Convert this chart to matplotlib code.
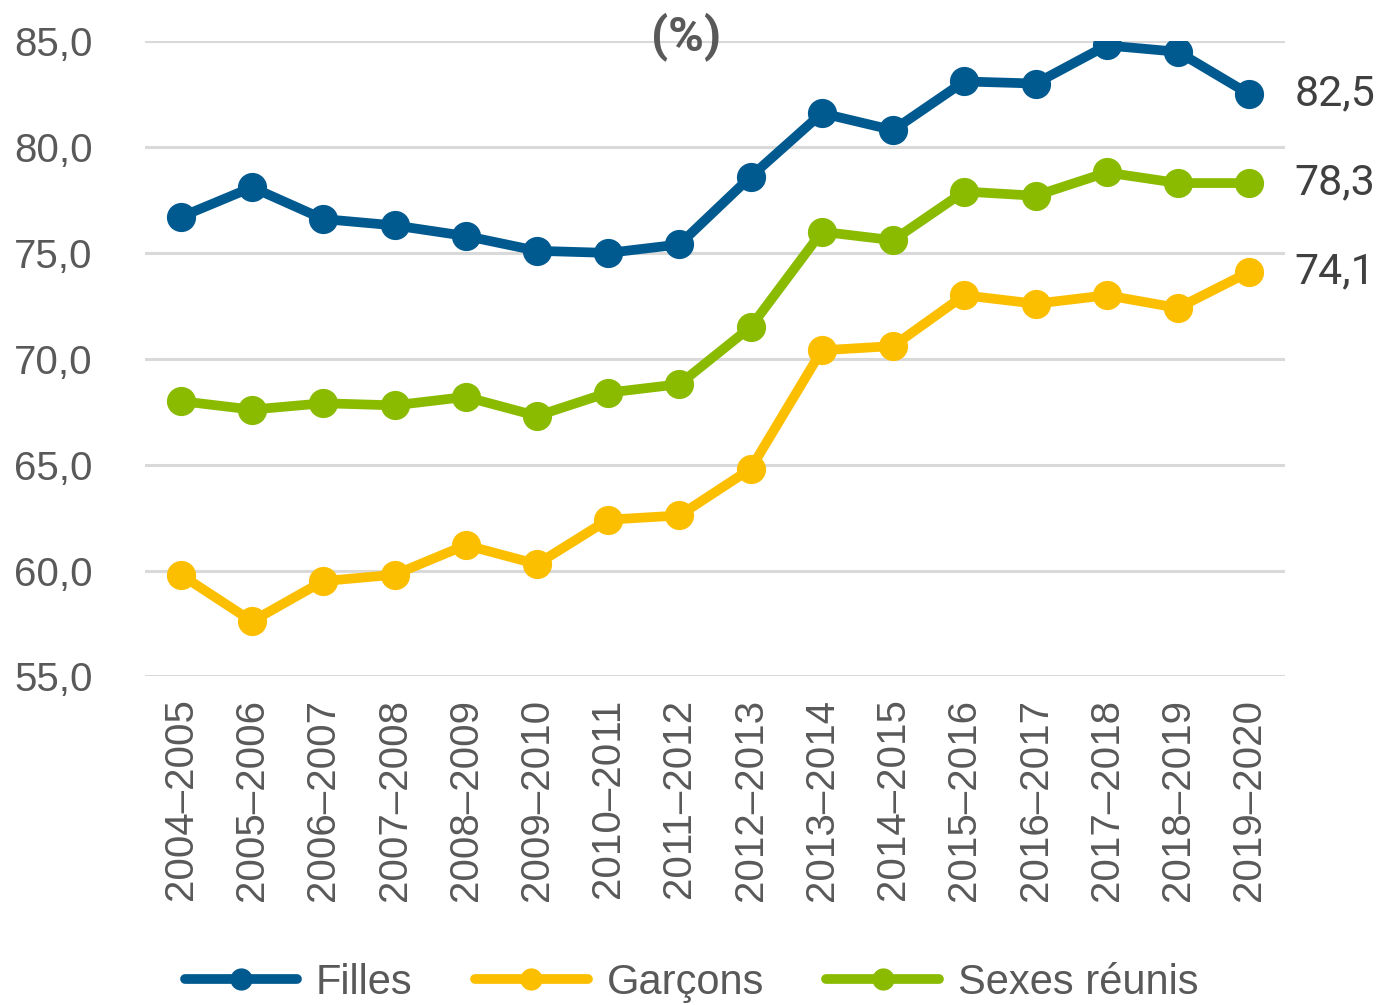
import matplotlib
matplotlib.use("Agg")
import matplotlib.pyplot as plt
import numpy as np

categories = ["2004–2005", "2005–2006", "2006–2007", "2007–2008", "2008–2009",
              "2009–2010", "2010–2011", "2011–2012", "2012–2013", "2013–2014",
              "2014–2015", "2015–2016", "2016–2017", "2017–2018", "2018–2019",
              "2019–2020"]
filles = [76.7, 78.1, 76.6, 76.3, 75.8, 75.1, 75.0, 75.4, 78.6, 81.6,
          80.8, 83.1, 83.0, 84.8, 84.5, 82.5]
garcons = [59.8, 57.6, 59.5, 59.8, 61.2, 60.3, 62.4, 62.6, 64.8, 70.4,
           70.6, 73.0, 72.6, 73.0, 72.4, 74.1]
reunis = [68.0, 67.6, 67.9, 67.8, 68.2, 67.3, 68.4, 68.8, 71.5, 76.0,
          75.6, 77.9, 77.7, 78.8, 78.3, 78.3]
yticks = [55, 60, 65, 70, 75, 80, 85]

series = [("Filles", filles, "#00598F"),
          ("Garçons", garcons, "#FCBF00"),
          ("Sexes réunis", reunis, "#8ABB00")]

txt = "#595959"
fig = plt.figure(figsize=(13.83, 10.05), dpi=100)
ax = fig.add_axes([0.105, 0.327, 0.824, 0.632])
x = np.arange(len(categories))

handles = []
for name, vals, col in series:
    h, = ax.plot(x, vals, color=col, lw=7, marker="o", ms=20,
                 solid_capstyle="round", zorder=3, label=name)
    handles.append(h)
    ax.text(x[-1] + 1.2, vals[-1], f"{vals[-1]:.1f}".replace(".", ","),
            fontsize=31, color="#404040", family="Roboto", va="center", ha="center")

ax.set_xlim(-0.5, len(categories) - 0.5)
ax.set_ylim(55, 85)
ax.set_yticks(yticks)
ax.set_yticklabels([f"{v:.1f}".replace(".", ",") for v in yticks],
                   fontsize=29, color=txt, family="Liberation Sans")
ax.set_xticks(x)
ax.set_xticklabels(categories, rotation=90, fontsize=29, color=txt,
                   family="Liberation Sans")
ax.tick_params(length=0)
ax.tick_params(axis="x", pad=16)
ax.tick_params(axis="y", pad=38)
ax.yaxis.grid(True, color="#D9D9D9", lw=2.2)
ax.set_axisbelow(True)
for s in ax.spines.values():
    s.set_visible(False)

ax.text(0.475, 1.008, "(%)", transform=ax.transAxes, ha="center", va="center",
        fontsize=35, fontweight="bold", color=txt, family="Roboto")

leg = fig.legend(handles=handles, loc="center", bbox_to_anchor=(0.5, 0.022),
                 ncol=3, frameon=False, handlelength=2.7,
                 columnspacing=1.5, handletextpad=0.45,
                 prop={"family": "Liberation Sans", "size": 30})
for h in leg.legend_handles:
    h.set_markersize(15)
for t in leg.get_texts():
    t.set_color(txt)

fig.savefig("out.png", dpi=100)
